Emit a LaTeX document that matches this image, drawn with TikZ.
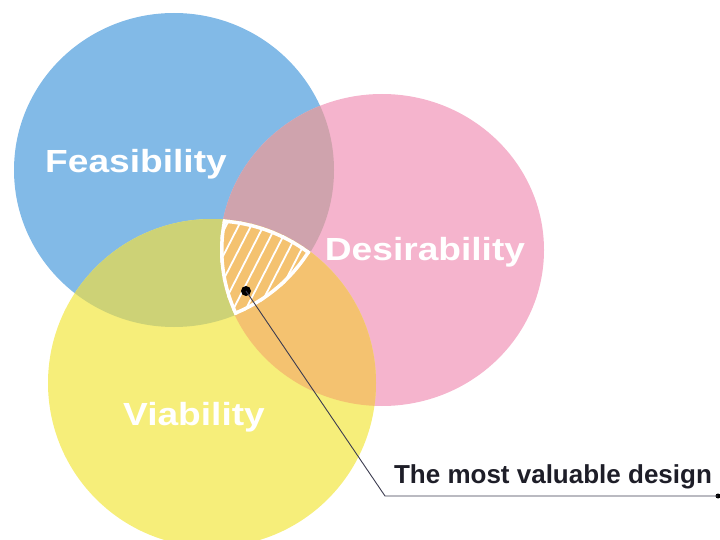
\documentclass[tikz,border=0pt]{standalone}
\usepackage{fontspec}
\setmainfont{Liberation Sans}
\begin{document}
\begin{tikzpicture}[x=1pt,y=-1pt,
  setlabel/.style={text=white,font=\fontsize{32}{32}\selectfont\bfseries,
    anchor=base,xscale=1.16,inner sep=0pt},
  captiontext/.style={text=captionc,font=\fontsize{26}{26}\selectfont\bfseries,
    anchor=base,inner sep=0pt},
  leader/.style={draw=leaderc,line width=0.9pt},
  spotdot/.style={circle,fill=black,inner sep=0pt,minimum size=#1}]
\definecolor{cblue}{RGB}{130,186,231}
\definecolor{cpink}{RGB}{245,180,205}
\definecolor{cyellow}{RGB}{246,238,122}
\definecolor{cbp}{RGB}{207,163,173}
\definecolor{cby}{RGB}{205,210,118}
\definecolor{cpy}{RGB}{244,194,112}
\definecolor{captionc}{RGB}{30,30,40}
\definecolor{leaderc}{RGB}{60,60,80}

\useasboundingbox (0,0) rectangle (720,540);

% the three sets
\fill[cblue]   (174,170) ellipse [x radius=160, y radius=157];
\fill[cpink]   (382,250) ellipse [x radius=162, y radius=156];
\fill[cyellow] (212,383) circle [radius=164];

% pairwise overlaps
\begin{scope}
  \clip (174,170) ellipse [x radius=160, y radius=157];
  \fill[cbp] (382,250) ellipse [x radius=162, y radius=156];
  \fill[cby] (212,383) circle [radius=164];
\end{scope}
\begin{scope}
  \clip (382,250) ellipse [x radius=162, y radius=156];
  \fill[cpy] (212,383) circle [radius=164];
\end{scope}

% the common region: hatched, with a white rim
\begin{scope}
  \clip (174,170) ellipse [x radius=160, y radius=157];
  \clip (382,250) ellipse [x radius=162, y radius=156];
  \clip (212,383) circle [radius=164];
  \fill[cpy] (150,200) rectangle (330,330);
  \foreach \k in {0,...,18}
    \draw[white,line width=1.8pt] ({130+12.5*\k},340) -- ++(80,-156);
  \draw[white,line width=7pt] (174,170) ellipse [x radius=160, y radius=157];
  \draw[white,line width=7pt] (382,250) ellipse [x radius=162, y radius=156];
  \draw[white,line width=7pt] (212,383) circle [radius=164];
\end{scope}

% set names
\node[setlabel] (feas) at (136,173) {Feasibility};
\node[setlabel] (desi) at (425,260) {Desirability};
\node[setlabel] (viab) at (194,425) {Viability};

% callout
\node[spotdot=10pt] (spot) at (246,291) {};
\coordinate (bend) at (385,496);
\node[spotdot=5pt] (tail) at (718,496) {};
\draw[leader] (spot.center) -- (bend) -- (tail.center);
\node[captiontext] (caption) at (553,483) {The most valuable design};
\end{tikzpicture}
\end{document}
